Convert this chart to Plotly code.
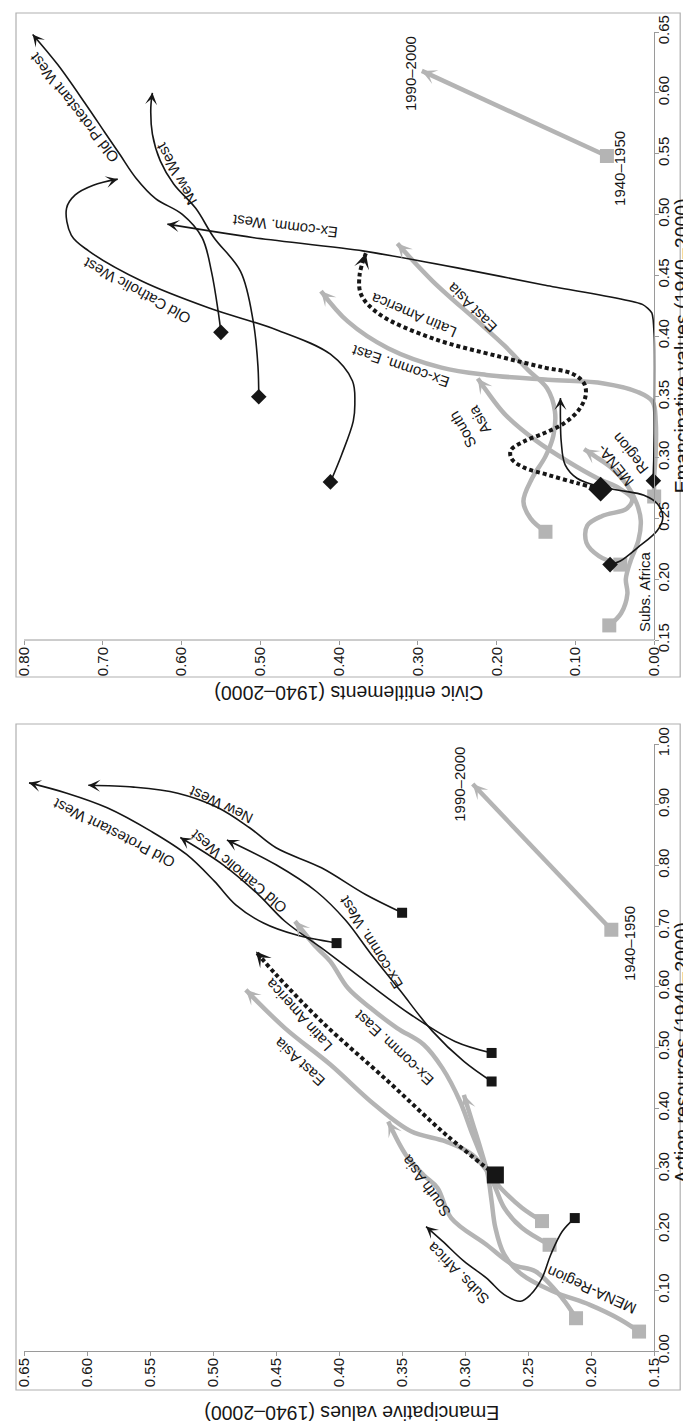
import plotly.graph_objects as go

# ---------------- TOP PANEL: x = Civic entitlements, y = Emancipative values ----------------
T_LEG_CIV = [0.060, 0.295]
T_LEG_EMA = [0.548, 0.618]

T_OPW_CIV = [0.550, 0.553, 0.562, 0.574, 0.599, 0.633, 0.658, 0.678, 0.698, 0.721, 0.757, 0.789]
T_OPW_EMA = [0.403, 0.418, 0.453, 0.481, 0.500, 0.513, 0.530, 0.549, 0.568, 0.590, 0.623, 0.648]

T_NW_CIV = [0.502, 0.503, 0.509, 0.525, 0.559, 0.582, 0.610, 0.627, 0.637, 0.639, 0.637]
T_NW_EMA = [0.350, 0.375, 0.412, 0.453, 0.481, 0.505, 0.525, 0.544, 0.566, 0.588, 0.600]

T_OCW_CIV = [0.411, 0.397, 0.382, 0.380, 0.383, 0.411, 0.479, 0.565, 0.650, 0.718, 0.740, 0.746, 0.735, 0.712, 0.681]
T_OCW_EMA = [0.280, 0.302, 0.330, 0.345, 0.363, 0.385, 0.405, 0.423, 0.445, 0.470, 0.483, 0.505, 0.516, 0.524, 0.529]

T_ECW_CIV = [0.001, 0.000, 0.000, 0.003, 0.015, 0.140, 0.250, 0.370, 0.510, 0.618]
T_ECW_EMA = [0.281, 0.320, 0.400, 0.419, 0.426, 0.442, 0.456, 0.470, 0.481, 0.492]

T_LAT_CIV = [0.068, 0.098, 0.136, 0.166, 0.181, 0.182, 0.166, 0.140, 0.115, 0.096, 0.087, 0.089, 0.104,
             0.139, 0.196, 0.281, 0.349, 0.372, 0.374, 0.366]
T_LAT_EMA = [0.274, 0.279, 0.286, 0.292, 0.299, 0.306, 0.313, 0.320, 0.328, 0.339, 0.351, 0.361, 0.369,
             0.374, 0.383, 0.398, 0.418, 0.434, 0.450, 0.468]

T_SSA_CIV = [0.056, 0.043, 0.021, -0.004, -0.011, -0.004, 0.013, 0.043, 0.068, 0.098, 0.113, 0.118, 0.119, 0.119]
T_SSA_EMA = [0.212, 0.215, 0.226, 0.240, 0.251, 0.262, 0.269, 0.273, 0.276, 0.283, 0.294, 0.313, 0.332, 0.349]

T_EA_CIV = [0.138, 0.157, 0.166, 0.155, 0.138, 0.128, 0.126, 0.136, 0.160, 0.190, 0.224, 0.281, 0.326]
T_EA_EMA = [0.239, 0.250, 0.264, 0.283, 0.301, 0.318, 0.338, 0.357, 0.372, 0.392, 0.412, 0.445, 0.476]

T_ECE_CIV = [0.000, 0.000, -0.002, -0.002, 0.002, 0.021, 0.064, 0.135, 0.213, 0.270, 0.338, 0.389, 0.423]
T_ECE_EMA = [0.268, 0.283, 0.305, 0.329, 0.346, 0.354, 0.361, 0.364, 0.368, 0.374, 0.390, 0.412, 0.437]

T_SA_CIV = [0.043, 0.070, 0.086, 0.085, 0.066, 0.035, 0.028, 0.045, 0.072, 0.110, 0.150, 0.190, 0.213, 0.224]
T_SA_EMA = [0.212, 0.219, 0.230, 0.244, 0.252, 0.258, 0.266, 0.275, 0.283, 0.297, 0.314, 0.336, 0.355, 0.365]

T_MENA_CIV = [0.057, 0.042, 0.034, 0.036, 0.030, 0.020, 0.017, 0.022, 0.035, 0.055, 0.075, 0.089]
T_MENA_EMA = [0.162, 0.172, 0.188, 0.200, 0.215, 0.232, 0.248, 0.262, 0.278, 0.292, 0.301, 0.307]

# ---------------- BOTTOM PANEL: x = Emancipative values, y = Action resources ----------------
B_LEG_EMA = [0.184, 0.294]
B_LEG_ACT = [0.694, 0.934]

B_NW_EMA = [0.350, 0.379, 0.414, 0.450, 0.471, 0.496, 0.528, 0.563, 0.599]
B_NW_ACT = [0.722, 0.752, 0.796, 0.829, 0.862, 0.895, 0.919, 0.929, 0.932]

B_OPW_EMA = [0.402, 0.435, 0.460, 0.482, 0.499, 0.521, 0.549, 0.584, 0.616, 0.646]
B_OPW_ACT = [0.672, 0.686, 0.705, 0.735, 0.774, 0.818, 0.856, 0.895, 0.919, 0.936]

B_OCW_EMA = [0.279, 0.308, 0.343, 0.379, 0.414, 0.443, 0.464, 0.492, 0.526]
B_OCW_ACT = [0.491, 0.510, 0.554, 0.609, 0.664, 0.708, 0.752, 0.801, 0.846]

B_ECW_EMA = [0.279, 0.301, 0.326, 0.352, 0.375, 0.395, 0.418, 0.450, 0.489]
B_ECW_ACT = [0.444, 0.477, 0.527, 0.595, 0.655, 0.710, 0.757, 0.801, 0.842]

B_LAT_EMA = [0.276, 0.315, 0.361, 0.414, 0.450, 0.466]
B_LAT_ACT = [0.290, 0.356, 0.444, 0.543, 0.620, 0.658]

B_SSA_EMA = [0.213, 0.223, 0.232, 0.239, 0.248, 0.256, 0.269, 0.283, 0.301, 0.318, 0.331]
B_SSA_ACT = [0.219, 0.197, 0.159, 0.120, 0.093, 0.082, 0.093, 0.120, 0.148, 0.181, 0.205]

B_MENA_EMA = [0.162, 0.177, 0.201, 0.230, 0.255, 0.269, 0.276, 0.279, 0.282, 0.288, 0.294, 0.301]
B_MENA_ACT = [0.032, 0.052, 0.076, 0.098, 0.126, 0.159, 0.203, 0.247, 0.290, 0.335, 0.375, 0.422]

B_SA_EMA = [0.212, 0.223, 0.244, 0.262, 0.283, 0.311, 0.322, 0.333, 0.347, 0.361]
B_SA_ACT = [0.054, 0.087, 0.131, 0.142, 0.175, 0.219, 0.269, 0.290, 0.323, 0.378]

B_EA_EMA = [0.239, 0.255, 0.272, 0.294, 0.315, 0.343, 0.372, 0.407, 0.443, 0.474]
B_EA_ACT = [0.214, 0.236, 0.269, 0.323, 0.345, 0.362, 0.406, 0.472, 0.532, 0.595]

B_ECE_EMA = [0.233, 0.255, 0.269, 0.276, 0.283, 0.294, 0.304, 0.318, 0.333, 0.354, 0.375, 0.393, 0.407, 0.418, 0.435]
B_ECE_ACT = [0.175, 0.203, 0.236, 0.269, 0.301, 0.356, 0.411, 0.466, 0.505, 0.532, 0.565, 0.598, 0.642, 0.665, 0.708]

# ---------------- tick labels ----------------
T_X_TICKS = [0.0, 0.1, 0.2, 0.3, 0.4, 0.5, 0.6, 0.7, 0.8]
T_Y_TICKS = [0.15, 0.20, 0.25, 0.30, 0.35, 0.40, 0.45, 0.50, 0.55, 0.60, 0.65]
B_X_TICKS = [0.15, 0.20, 0.25, 0.30, 0.35, 0.40, 0.45, 0.50, 0.55, 0.60, 0.65]
B_Y_TICKS = [0.0, 0.1, 0.2, 0.3, 0.4, 0.5, 0.6, 0.7, 0.8, 0.9, 1.0]

# ---------------- styling / layout geometry ----------------
FONT = "Liberation Sans, Arial, Helvetica, sans-serif"
BLACK = "#161616"
GREY = "#b4b4b4"
AXC = "#9a9a9a"
FRAMEC = "#b0b0b0"
W, H = 691, 1422
ML, MT, MB = 16, 24, 79
PX_PER_CIV = 787.5          # px per unit civic (top x)
EXTRA = 0.015               # room to the right of 0.00 on top panel
PW = 630 + EXTRA * PX_PER_CIV
MR = W - ML - PW
PH = H - MT - MB
TOP_Y0 = (1343 - 632) / PH
BOT_Y1 = (1343 - 736) / PH
XD_BOT = 630 / PW


def paper_x(px):
    return (px - ML) / PW


def paper_y(py):
    return (H - MB - py) / PH


fig = go.Figure()

# scale (px per data unit) for arrow direction
SCALES = {"top": (787.5, 1216.0), "bot": (1260.0, 607.0)}
AXES = {"top": ("x", "y"), "bot": ("x2", "y2")}

series = [
    # panel, key, xs, ys, colour, width, dash, start symbol, start size
    ("top", "legend", T_LEG_CIV, T_LEG_EMA, GREY, 4.5, "solid", "square", 14),
    ("top", "ea", T_EA_CIV, T_EA_EMA, GREY, 4.5, "solid", "square", 14),
    ("top", "ece", T_ECE_CIV, T_ECE_EMA, GREY, 4.5, "solid", "square", 14),
    ("top", "sa", T_SA_CIV, T_SA_EMA, GREY, 4.5, "solid", "square", 14),
    ("top", "mena", T_MENA_CIV, T_MENA_EMA, GREY, 4.5, "solid", "square", 14),
    ("top", "opw", T_OPW_CIV, T_OPW_EMA, BLACK, 1.6, "solid", "diamond", 12),
    ("top", "nw", T_NW_CIV, T_NW_EMA, BLACK, 1.6, "solid", "diamond", 12),
    ("top", "ocw", T_OCW_CIV, T_OCW_EMA, BLACK, 1.6, "solid", "diamond", 12),
    ("top", "ecw", T_ECW_CIV, T_ECW_EMA, BLACK, 1.6, "solid", "diamond", 12),
    ("top", "ssa", T_SSA_CIV, T_SSA_EMA, BLACK, 1.6, "solid", "diamond", 12),
    ("top", "lat", T_LAT_CIV, T_LAT_EMA, BLACK, 4.0, "4px,3px", "diamond", 19),
    ("bot", "legend", B_LEG_EMA, B_LEG_ACT, GREY, 4.5, "solid", "square", 14),
    ("bot", "ea", B_EA_EMA, B_EA_ACT, GREY, 4.5, "solid", "square", 14),
    ("bot", "ece", B_ECE_EMA, B_ECE_ACT, GREY, 4.5, "solid", "square", 14),
    ("bot", "sa", B_SA_EMA, B_SA_ACT, GREY, 4.5, "solid", "square", 14),
    ("bot", "mena", B_MENA_EMA, B_MENA_ACT, GREY, 4.5, "solid", "square", 14),
    ("bot", "opw", B_OPW_EMA, B_OPW_ACT, BLACK, 1.6, "solid", "square", 10),
    ("bot", "nw", B_NW_EMA, B_NW_ACT, BLACK, 1.6, "solid", "square", 10),
    ("bot", "ocw", B_OCW_EMA, B_OCW_ACT, BLACK, 1.6, "solid", "square", 10),
    ("bot", "ecw", B_ECW_EMA, B_ECW_ACT, BLACK, 1.6, "solid", "square", 10),
    ("bot", "ssa", B_SSA_EMA, B_SSA_ACT, BLACK, 1.6, "solid", "square", 10),
    ("bot", "lat", B_LAT_EMA, B_LAT_ACT, BLACK, 4.0, "4px,3px", "square", 17),
]

annotations = []
for panel, key, xs, ys, col, lw, dash, sym, msz in series:
    xa, ya = AXES[panel]
    smooth = 0.6 if key == "ecw" and panel == "top" else 1.0
    fig.add_trace(go.Scatter(
        x=xs, y=ys, xaxis=xa, yaxis=ya, mode="lines",
        line=dict(color=col, width=lw, dash=dash,
                  shape="linear" if key == "legend" else "spline", smoothing=smooth),
        hoverinfo="skip", showlegend=False))
    fig.add_trace(go.Scatter(
        x=[xs[0]], y=[ys[0]], xaxis=xa, yaxis=ya, mode="markers",
        marker=dict(symbol=sym, size=msz, color=col, line=dict(width=0)),
        cliponaxis=False, hoverinfo="skip", showlegend=False))
    # arrow head at the end of each trajectory
    sx, sy = SCALES[panel]
    dxp = (xs[-1] - xs[-2]) * sx
    dyp = (ys[-1] - ys[-2]) * sy
    n = (dxp ** 2 + dyp ** 2) ** 0.5
    L = 6.0
    ax = xs[-1] - dxp / n * L / sx
    ay = ys[-1] - dyp / n * L / sy
    if col == GREY:
        aw, asz = 4.0, 0.62
    elif lw > 3:
        aw, asz = 3.0, 0.85
    else:
        aw, asz = 1.6, 1.25
    annotations.append(dict(
        x=xs[-1], y=ys[-1], ax=ax, ay=ay, xref=xa, yref=ya, axref=xa, ayref=ya,
        showarrow=True, arrowhead=3, arrowsize=asz, arrowwidth=aw, arrowcolor=col,
        standoff=0, text=""))

# curve labels: (panel, text, x, y, angle)
LABELS = [
    ("top", "Old Protestant West", 0.737, 0.588, -128),
    ("top", "New West", 0.607, 0.533, -119),
    ("top", "Old Catholic West", 0.658, 0.437, -151),
    ("top", "Ex-comm. West", 0.468, 0.490, -173),
    ("top", "Latin America", 0.306, 0.417, -157),
    ("top", "East Asia", 0.232, 0.423, -135),
    ("top", "Ex-comm. East", 0.323, 0.375, -161),
    ("top", "South<br>Asia", 0.232, 0.327, -120),
    ("top", "MENA-<br>Region", 0.040, 0.298, -129),
    ("top", "Subs. Africa", 0.012, 0.190, -90),
    ("top", "1940\u20131950", 0.045, 0.538, -90),
    ("top", "1990\u20132000", 0.309, 0.616, -90),
    ("bot", "Old Protestant West", 0.579, 0.853, -153),
    ("bot", "New West", 0.494, 0.900, -155),
    ("bot", "Old Catholic West", 0.480, 0.790, -140),
    ("bot", "Ex-comm. West", 0.375, 0.672, -122),
    ("bot", "Latin America", 0.432, 0.554, -132),
    ("bot", "East Asia", 0.432, 0.476, -137),
    ("bot", "Ex-comm. East", 0.357, 0.499, -137),
    ("bot", "South Asia", 0.331, 0.272, -126),
    ("bot", "Subs. Africa", 0.306, 0.128, -135),
    ("bot", "MENA-Region", 0.200, 0.100, -156),
    ("bot", "1940\u20131950", 0.170, 0.672, -90),
    ("bot", "1990\u20132000", 0.304, 0.933, -90),
]
for panel, txt, lx, ly, ang in LABELS:
    xa, ya = AXES[panel]
    annotations.append(dict(x=lx, y=ly, xref=xa, yref=ya, text=txt, showarrow=False,
                            textangle=ang, font=dict(family=FONT, size=15, color=BLACK),
                            xanchor="center", yanchor="middle"))

# axis titles (rotated with the figure)
TITLES = [
    ("Civic entitlements (1940\u20132000)", 341, 685, 180),
    ("Emancipative values (1940\u20132000)", 674, 338, -90),
    ("Emancipative values (1940\u20132000)", 344, 1405, 180),
    ("Action resources (1940\u20132000)", 674, 1045, -90),
]
for txt, px, py, ang in TITLES:
    annotations.append(dict(x=paper_x(px), y=paper_y(py), xref="paper", yref="paper",
                            text=txt, showarrow=False, textangle=ang,
                            font=dict(family=FONT, size=19.5, color=BLACK),
                            xanchor="center", yanchor="middle", borderpad=0))

shapes = []
for (x0, y0, x1, y1) in [(8, 5, 672, 669), (8, 716, 672, 1382)]:
    shapes.append(dict(type="rect", xref="paper", yref="paper",
                       x0=paper_x(x0), x1=paper_x(x1), y0=paper_y(y0), y1=paper_y(y1),
                       line=dict(color=FRAMEC, width=1.2), fillcolor="rgba(0,0,0,0)", layer="below"))
# top panel horizontal axis line (from 0.80 to 0.00 only)
shapes.append(dict(type="line", xref="x", yref="y domain", x0=0.8, x1=0.0, y0=0, y1=0,
                   line=dict(color=AXC, width=1)))

tickfont = dict(family=FONT, size=15, color=BLACK)
common = dict(showgrid=False, zeroline=False, ticks="outside", ticklen=4, tickwidth=1,
              tickcolor=AXC, tickangle=-90, tickfont=tickfont, automargin=False,
              linecolor=AXC, linewidth=1)
XSO = -4
YSO = -8

fig.update_layout(
    template="none",
    width=W, height=H,
    margin=dict(l=ML, r=MR, t=MT, b=MB, pad=0),
    paper_bgcolor="white", plot_bgcolor="white",
    showlegend=False,
    font=dict(family=FONT, color=BLACK),
    xaxis=dict(domain=[0, 1], range=[0.8, -EXTRA], anchor="y", showline=False, ticklabelstandoff=XSO,
               tickvals=T_X_TICKS, ticktext=[f"{v:.2f}" for v in T_X_TICKS], **common),
    yaxis=dict(domain=[TOP_Y0, 1], range=[0.15, 0.65], anchor="free", position=XD_BOT,
               side="right", showline=True, ticklabelstandoff=YSO,
               tickvals=T_Y_TICKS, ticktext=[f"{v:.2f}" for v in T_Y_TICKS], **common),
    xaxis2=dict(domain=[0, XD_BOT], range=[0.65, 0.15], anchor="y2", showline=True, ticklabelstandoff=XSO,
                tickvals=B_X_TICKS, ticktext=[f"{v:.2f}" for v in B_X_TICKS], **common),
    yaxis2=dict(domain=[0, BOT_Y1], range=[0.0, 1.0], anchor="x2", side="right", showline=True,
                ticklabelstandoff=YSO,
                tickvals=B_Y_TICKS, ticktext=[f"{v:.2f}" for v in B_Y_TICKS], **common),
    annotations=annotations,
    shapes=shapes,
)

fig.write_html("out.html")
